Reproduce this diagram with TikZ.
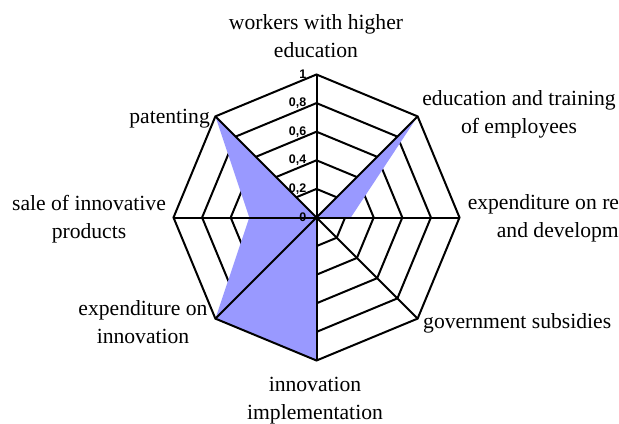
\documentclass[tikz,border=0pt]{standalone}
\usepackage{fontspec}
\setmainfont{Liberation Serif}
\newfontfamily\tickfont{Liberation Sans}
\definecolor{serieblue}{HTML}{9999FF}
\begin{document}
\begin{tikzpicture}[x=1bp,y=1bp,
  gridline/.style={line width=2bp, line join=miter, draw=black},
  seriesfill/.style={fill=serieblue},
  lbl/.style={font=\fontsize{21.7}{27.5}\selectfont, align=center, anchor=base, inner sep=0pt},
  ticklbl/.style={font=\tickfont\bfseries\fontsize{12.5}{12.5}\selectfont, anchor=east, inner sep=0pt}]
\useasboundingbox (0,0) rectangle (619,423);
\clip (0,0) rectangle (619,423);
\begin{scope}[shift={(316.5,205.5)}]
  \coordinate (O) at (0,0);
  \foreach \i/\a in {0/90,1/45,2/0,3/-45,4/-90,5/-135,6/180,7/135}
    \coordinate (v\i) at (\a:143);
  % inner rings
  \foreach \r in {28.6,57.2,85.8,114.4}
    \draw[gridline] (90:\r) -- (45:\r) -- (0:\r) -- (-45:\r) -- (-90:\r) -- (-135:\r) -- (180:\r) -- (135:\r) -- cycle;
  % data series
  \fill[seriesfill] (O) -- (v1) -- (0:34.3) -- (O) -- (v4) -- (v5) -- (180:67.2) -- (v7) -- cycle;
  % outer ring and axes
  \draw[gridline] (v0) -- (v1) -- (v2) -- (v3) -- (v4) -- (v5) -- (v6) -- (v7) -- cycle;
  \foreach \i in {0,...,7} \draw[gridline] (O) -- (v\i);
  % tick labels
  \node[ticklbl] (t0) at (-10,0) {0};
  \node[ticklbl] (t1) at (-10,28.6) {0,2};
  \node[ticklbl] (t2) at (-10,57.2) {0,4};
  \node[ticklbl] (t3) at (-10,85.8) {0,6};
  \node[ticklbl] (t4) at (-10,114.4) {0,8};
  \node[ticklbl] (t5) at (-10,143) {1};
\end{scope}
\node[lbl] (l0) at (316,366) {workers with higher\\education};
\node[lbl] (l1) at (519,290) {education and training\\of employees};
\node[lbl] (l2) at (571,186) {expenditure on research\\and development};
\node[lbl, anchor=base west] (l3) at (423,95) {government subsidies};
\node[lbl] (l4) at (315,4) {innovation\\implementation};
\node[lbl] (l5) at (143,80) {expenditure on\\innovation};
\node[lbl] (l6) at (89,185) {sale of innovative\\products};
\node[lbl, anchor=base east] (l7) at (210,300) {patenting};
\end{tikzpicture}
\end{document}
